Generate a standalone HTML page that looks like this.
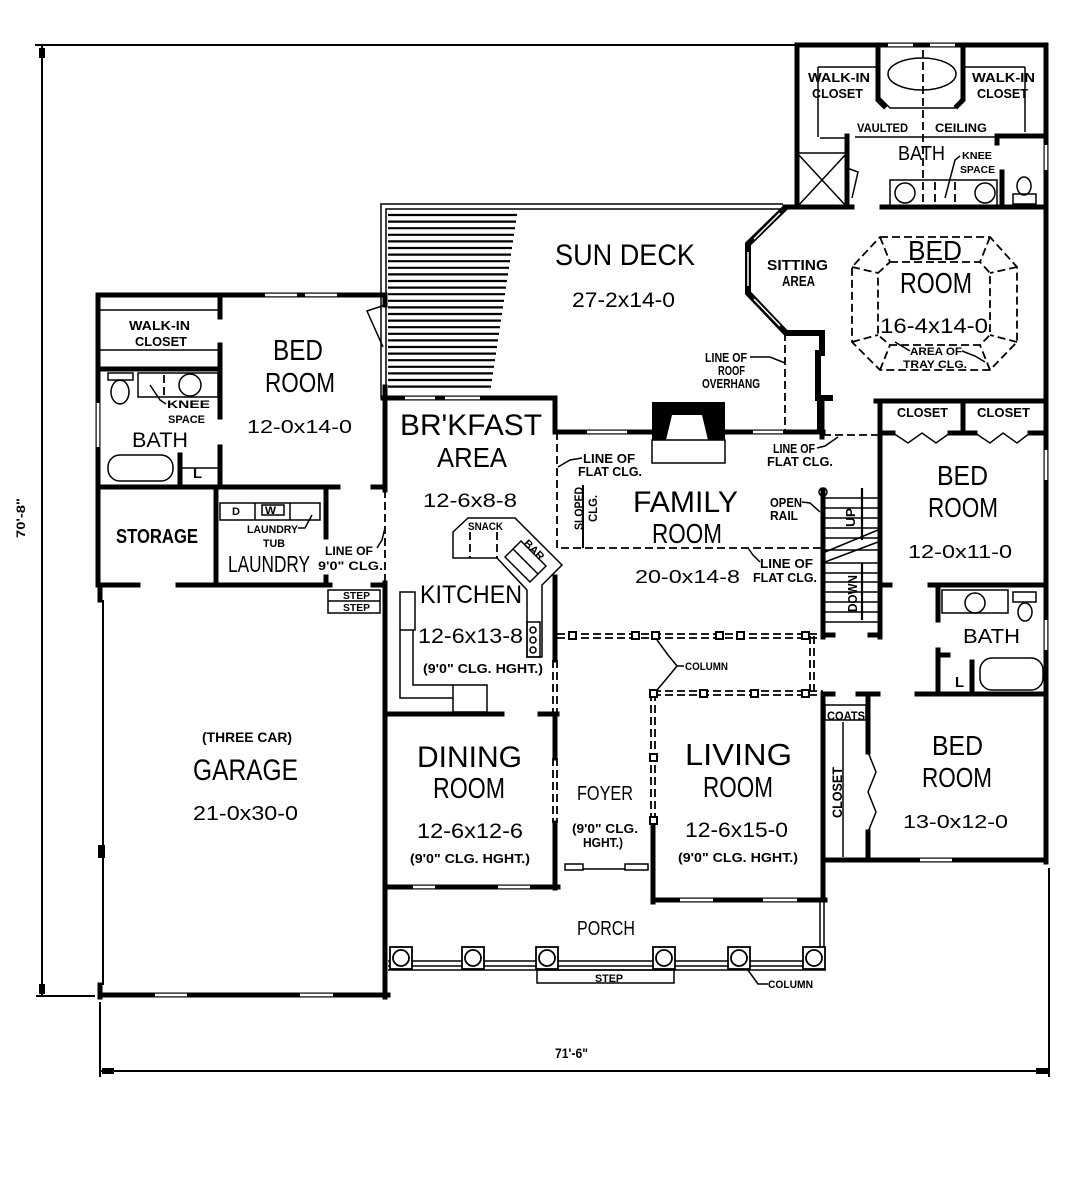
<!DOCTYPE html>
<html><head><meta charset="utf-8"><title>Floor Plan</title>
<style>
html,body{margin:0;padding:0;background:#fff;width:1089px;height:1200px;overflow:hidden}
svg{display:block}
text{font-family:"Liberation Sans",Arial,sans-serif;fill:#000}
.b{font-weight:bold}
</style></head><body>
<svg width="1089" height="1200" viewBox="0 0 1089 1200" xmlns="http://www.w3.org/2000/svg">
<rect width="1089" height="1200" fill="#fff"/>

<!-- dimension lines -->
<g stroke="#000" stroke-width="2" fill="none">
<path d="M35,45H797 M42,45V995 M36,996H95 M100,1002V1077 M100,1071H1049 M1049,868V1077"/>
</g>
<g fill="#000">
<path d="M39,48h6v10h-6z M39,984h6v10h-6z M102,1068h12v6h-12z M1036,1068h12v6h-12z"/>
</g>

<!-- sun deck -->
<g stroke="#000" stroke-width="1.5" fill="none">
<path d="M381,398V204H783 M386,398V209H783"/>
</g>
<g stroke="#000" stroke-width="2.2">
<path d="M388,215H517 M388,221.6H516 M388,228.2H515 M388,234.8H514 M388,241.4H513 M388,248H512 M388,254.6H511 M388,261.2H510 M388,267.8H509 M388,274.4H508 M388,281H507 M388,287.6H506 M388,294.2H505 M388,300.8H504 M388,307.4H503 M388,314H502 M388,320.6H501 M388,327.2H500 M388,333.8H499 M388,340.4H498 M388,347H497 M388,353.6H496 M388,360.2H495 M388,366.8H494 M388,373.4H493 M388,380H492 M388,386.6H491"/>
</g>

<!-- thick walls -->
<g stroke="#000" stroke-width="5" stroke-linecap="square" fill="none">
<path d="M797,45H1046 M797,45V207 M1046,45V862 M878,45V100L884,106 M963,45V100L957,106 M847,136V207 M998,136H1046 M997,136V143 M785,207H852 M882,207H1046 M1002,172V207
M383,398H555 M555,398V432 M555,432H823 M822,400V437
M98,295H385 M98,295V585 M220,295V317 M220,345V417 M220,447V487 M98,369H220 M98,487H338 M373,487H385 M180,455V487 M385,295V305 M385,387V490
M216,487V585 M326,488V537 M326,577V585 M98,585H138 M178,585H330 M373,585H385
M100,585V600 M100,985V997 M100,995H388 M385,583V997
M555,577V660 M385,714H502 M540,714H557 M555,714V758 M555,823V888 M385,887H558
M653,825V902 M653,900H825 M823,694V900
M823,490V637 M880,402V637 M880,585H890 M823,635H833 M870,635H880 M823,694H833 M858,694H878 M868,694V752 M868,832V860 M823,860H1046
M876,401H1046 M880,433H893 M950,433H975 M1030,433H1046 M963,402V433
M930,585H1046 M938,585V620 M938,650V694 M917,694H1046 M972,662V694 M938,655H948"/>
</g>
<g stroke="#000" stroke-width="6" stroke-linejoin="miter" fill="none">
<path d="M786,207L748,244V293L786,333H822V353H818V398H833M820,398V434"/>
</g>
<g stroke="#fff" stroke-width="1.5" fill="none">
<path d="M780,213L754,239 M748,252V286 M754,299L780,326"/>
</g>
<!-- garage left thin wall -->
<g stroke="#000" stroke-width="2" fill="none"><path d="M103,600V985"/></g>
<rect x="98" y="845" width="7" height="13" fill="#000"/>

<!-- windows -->
<g fill="#fff">
<rect x="265" y="293.7" width="32" height="2.6"/><rect x="305" y="293.7" width="32" height="2.6"/>
<rect x="888" y="43.7" width="25" height="2.6"/><rect x="930" y="43.7" width="25" height="2.6"/>
<rect x="405" y="396.7" width="30" height="2.6"/><rect x="445" y="396.7" width="35" height="2.6"/>
<rect x="587" y="430.7" width="40" height="2.6"/><rect x="753" y="430.7" width="30" height="2.6"/>
<rect x="413" y="885.7" width="22" height="2.6"/><rect x="498" y="885.7" width="32" height="2.6"/>
<rect x="680" y="898.7" width="33" height="2.6"/><rect x="763" y="898.7" width="34" height="2.6"/>
<rect x="155" y="993.7" width="32" height="2.6"/><rect x="300" y="993.7" width="33" height="2.6"/>
<rect x="920" y="858.7" width="32" height="2.6"/>
<rect x="96.7" y="403" width="2.6" height="44"/>
<rect x="1044.7" y="145" width="2.6" height="25"/>
<rect x="1044.7" y="450" width="2.6" height="30"/>
<rect x="1044.7" y="620" width="2.6" height="30"/>
</g>

<!-- thin details -->
<g stroke="#000" stroke-width="1.5" fill="none">
<!-- left wing -->
<path d="M98,310H220 M98,350H220"/>
<rect x="108" y="373" width="25" height="7"/><ellipse cx="120" cy="392" rx="9" ry="12"/>
<rect x="138" y="373" width="80" height="24"/><circle cx="190" cy="385" r="11"/>
<rect x="108" y="455" width="65" height="26" rx="12"/>
<path d="M180,468H218"/>
<rect x="220" y="503" width="100" height="17"/><path d="M255,503V520 M290,503V520"/><rect x="262" y="505" width="22" height="10"/>
<rect x="328" y="590" width="52" height="23"/><path d="M328,601H380"/>
<path d="M385,305L367,311L383,347"/>
<!-- master -->
<ellipse cx="922" cy="74" rx="34" ry="16"/>
<path d="M878,96L890,108H955L963,96"/>
<path d="M818,67V137 M818,67H878 M1025,67V132 M963,67H1025 M820,138H845 M855,137H995"/>
<rect x="797" y="153" width="50" height="54"/><path d="M797,153L847,207 M847,153L797,207"/>
<path d="M847,168L858,172L852,198"/>
<rect x="890" y="180" width="107" height="27"/><circle cx="905" cy="193" r="10"/><circle cx="985" cy="193" r="10"/>
<ellipse cx="1024" cy="186" rx="7" ry="9"/><rect x="1013" y="194" width="23" height="10"/>
<!-- kitchen -->
<rect x="400" y="592" width="15" height="38"/>
<path d="M400,630V698H453 M413,630V685H453"/>
<rect x="453" y="685" width="34" height="27"/>
<path d="M453,532L468,518H515L562,565L542,585V657H527V590L497,558H453Z"/>
<path d="M505,557L521,541L546,566L530,582Z M513,549L538,574"/>
<rect x="527" y="622" width="13" height="35"/>
<circle cx="533" cy="630" r="3"/><circle cx="533" cy="640" r="3"/><circle cx="533" cy="650" r="3"/>
<!-- foyer door -->
<rect x="565" y="864" width="18" height="6"/><rect x="625" y="864" width="23" height="6"/><path d="M583,869H625"/>
<!-- halls / closets -->
<rect x="825" y="705" width="41" height="15"/><path d="M843,722V857"/>
<path d="M868,752L876,772L868,792L876,812L868,832"/>
<path d="M893,433L908,443L922,433L936,443L950,433 M975,433L990,443L1003,433L1017,443L1030,433"/>
<!-- right bath -->
<rect x="942" y="590" width="66" height="23"/><circle cx="975" cy="603" r="10"/>
<ellipse cx="1025" cy="612" rx="7" ry="9"/><rect x="1013" y="592" width="23" height="10"/>
<rect x="980" y="658" width="63" height="32" rx="12"/>
<!-- stair -->
<path d="M825,498H878 M825,508H878 M825,518H878 M825,528H878 M825,538H878 M825,550H878 M825,563H878 M825,573H878 M825,582H878 M825,592H878 M825,602H878 M825,612H878 M825,622H878"/>
<path d="M825,552L878,530 M825,562L878,542"/>
<circle cx="823" cy="492" r="4"/>
<!-- porch -->
<path d="M388,970H826 M388,961H822 M388,966H822 M820,900V947 M824,900V947"/>
<rect x="537" y="970" width="137" height="13"/>
<!-- leaders -->
<path d="M150,385L160,400L166,404 M298,528H305L312,515 M377,548L382,540L385,528 M582,458L570,460L558,467 M817,448L825,446L838,437 M760,562L753,555L748,548 M802,502L810,503L820,512 M750,357L770,357L785,363 M960,156L955,160L945,198 M910,351L895,342 M962,351L975,356L985,362 M684,666H677L668,655L657,640 M677,666L668,677L657,690 M768,984H758L745,966"/>
</g>
<g stroke="#000" stroke-width="2.2"><path d="M862,488V540 M862,563V620"/></g>

<!-- fireplace -->
<rect x="652" y="402" width="73" height="38" fill="#000"/>
<path d="M672,415H702L708,440H666Z" fill="#fff"/>
<rect x="652" y="440" width="73" height="23" fill="#fff" stroke="#000" stroke-width="1.5"/>

<!-- dashed lines -->
<g stroke="#000" stroke-width="1.8" fill="none" stroke-dasharray="8,4">
<path d="M923,50V205"/>
<path d="M557,432V548H823"/>
<path d="M385,490V583"/>
<path d="M785,333V432 M823,435H880"/>
<path d="M557,634H823 M557,638H823 M653,691H823 M653,695H823 M810,636V693 M814,636V693 M651,693V825 M655,693V825 M553,660V714 M557,660V714 M553,758V823 M557,758V823"/>
<path d="M880,237H990L1017,267V342L990,370H880L852,342V267Z"/>
<path d="M890,262H980L990,273V335L980,345H890L878,335V273Z"/>
<path d="M880,237L890,262 M990,237L980,262 M1017,267L990,273 M1017,342L990,335 M990,370L980,345 M880,370L890,345 M852,342L878,335 M852,267L878,273"/>
<path d="M164,375V395 M935,182V205 M955,182V205 M470,532V558 M497,532V558"/>
</g>
<g stroke="#000" stroke-width="2" fill="none"><path d="M583,485V548"/></g>

<!-- column squares -->
<g fill="#fff" stroke="#000" stroke-width="2">
<rect x="569" y="632" width="7" height="7"/><rect x="632" y="632" width="7" height="7"/><rect x="652" y="632" width="7" height="7"/><rect x="716" y="632" width="7" height="7"/><rect x="737" y="632" width="7" height="7"/><rect x="802" y="632" width="7" height="7"/>
<rect x="650" y="690" width="7" height="7"/><rect x="700" y="690" width="7" height="7"/><rect x="751" y="690" width="7" height="7"/><rect x="802" y="690" width="7" height="7"/>
<rect x="650" y="754" width="7" height="7"/><rect x="650" y="817" width="7" height="7"/>
</g>
<g fill="#fff" stroke="#000" stroke-width="1.8">
<rect x="390" y="947" width="22" height="22"/><circle cx="401" cy="958" r="8"/>
<rect x="462" y="947" width="22" height="22"/><circle cx="473" cy="958" r="8"/>
<rect x="536" y="947" width="22" height="22"/><circle cx="547" cy="958" r="8"/>
<rect x="653" y="947" width="22" height="22"/><circle cx="664" cy="958" r="8"/>
<rect x="728" y="947" width="22" height="22"/><circle cx="739" cy="958" r="8"/>
<rect x="803" y="947" width="22" height="22"/><circle cx="814" cy="958" r="8"/>
</g>

<!-- TEXT -->
<g>
<text x="555" y="265" font-size="30" textLength="140" lengthAdjust="spacingAndGlyphs">SUN DECK</text>
<text x="572" y="307" font-size="21" textLength="103" lengthAdjust="spacingAndGlyphs">27-2x14-0</text>
<text class="b" x="767" y="270" font-size="15" textLength="61" lengthAdjust="spacingAndGlyphs">SITTING</text>
<text class="b" x="782" y="286" font-size="15" textLength="33" lengthAdjust="spacingAndGlyphs">AREA</text>
<text class="b" x="705" y="362" font-size="13" textLength="42" lengthAdjust="spacingAndGlyphs">LINE OF</text>
<text class="b" x="718" y="375" font-size="13" textLength="27" lengthAdjust="spacingAndGlyphs">ROOF</text>
<text class="b" x="702" y="388" font-size="13" textLength="58" lengthAdjust="spacingAndGlyphs">OVERHANG</text>

<text x="400" y="435" font-size="30" textLength="142" lengthAdjust="spacingAndGlyphs">BR'KFAST</text>
<text x="437" y="467" font-size="28" textLength="70" lengthAdjust="spacingAndGlyphs">AREA</text>
<text x="423" y="507" font-size="19" textLength="94" lengthAdjust="spacingAndGlyphs">12-6x8-8</text>
<text class="b" x="583" y="463" font-size="13" textLength="52" lengthAdjust="spacingAndGlyphs">LINE OF</text>
<text class="b" x="578" y="476" font-size="13" textLength="64" lengthAdjust="spacingAndGlyphs">FLAT CLG.</text>
<text class="b" transform="translate(583,530) rotate(-90)" font-size="12" textLength="43" lengthAdjust="spacingAndGlyphs">SLOPED</text>
<text class="b" transform="translate(597,522) rotate(-90)" font-size="12" textLength="27" lengthAdjust="spacingAndGlyphs">CLG.</text>
<text x="633" y="512" font-size="30" textLength="105" lengthAdjust="spacingAndGlyphs">FAMILY</text>
<text x="652" y="543" font-size="28" textLength="70" lengthAdjust="spacingAndGlyphs">ROOM</text>
<text x="635" y="583" font-size="18" textLength="105" lengthAdjust="spacingAndGlyphs">20-0x14-8</text>
<text class="b" x="770" y="507" font-size="13" textLength="32" lengthAdjust="spacingAndGlyphs">OPEN</text>
<text class="b" x="770" y="520" font-size="13" textLength="28" lengthAdjust="spacingAndGlyphs">RAIL</text>
<text class="b" x="760" y="568" font-size="13" textLength="53" lengthAdjust="spacingAndGlyphs">LINE OF</text>
<text class="b" x="753" y="582" font-size="13" textLength="64" lengthAdjust="spacingAndGlyphs">FLAT CLG.</text>
<text class="b" x="773" y="453" font-size="13" textLength="42" lengthAdjust="spacingAndGlyphs">LINE OF</text>
<text class="b" x="767" y="466" font-size="13" textLength="66" lengthAdjust="spacingAndGlyphs">FLAT CLG.</text>
<text class="b" x="468" y="530" font-size="11" textLength="35" lengthAdjust="spacingAndGlyphs">SNACK</text>
<text class="b" transform="translate(523,544) rotate(45)" font-size="11" textLength="24" lengthAdjust="spacingAndGlyphs">BAR</text>
<text x="420" y="603" font-size="25" textLength="102" lengthAdjust="spacingAndGlyphs">KITCHEN</text>
<text x="418" y="643" font-size="21" textLength="105" lengthAdjust="spacingAndGlyphs">12-6x13-8</text>
<text class="b" x="423" y="673" font-size="13" textLength="120" lengthAdjust="spacingAndGlyphs">(9'0&quot; CLG. HGHT.)</text>
<text class="b" x="685" y="670" font-size="11" textLength="43" lengthAdjust="spacingAndGlyphs">COLUMN</text>

<text x="417" y="767" font-size="30" textLength="105" lengthAdjust="spacingAndGlyphs">DINING</text>
<text x="433" y="798" font-size="29" textLength="72" lengthAdjust="spacingAndGlyphs">ROOM</text>
<text x="417" y="838" font-size="21" textLength="106" lengthAdjust="spacingAndGlyphs">12-6x12-6</text>
<text class="b" x="410" y="863" font-size="13" textLength="120" lengthAdjust="spacingAndGlyphs">(9'0&quot; CLG. HGHT.)</text>
<text x="577" y="800" font-size="20" textLength="56" lengthAdjust="spacingAndGlyphs">FOYER</text>
<text class="b" x="572" y="833" font-size="13" textLength="66" lengthAdjust="spacingAndGlyphs">(9'0&quot; CLG.</text>
<text class="b" x="583" y="847" font-size="13" textLength="40" lengthAdjust="spacingAndGlyphs">HGHT.)</text>
<text x="685" y="765" font-size="31" textLength="107" lengthAdjust="spacingAndGlyphs">LIVING</text>
<text x="703" y="797" font-size="29" textLength="70" lengthAdjust="spacingAndGlyphs">ROOM</text>
<text x="685" y="837" font-size="21" textLength="103" lengthAdjust="spacingAndGlyphs">12-6x15-0</text>
<text class="b" x="678" y="862" font-size="13" textLength="120" lengthAdjust="spacingAndGlyphs">(9'0&quot; CLG. HGHT.)</text>
<text x="577" y="935" font-size="20" textLength="58" lengthAdjust="spacingAndGlyphs">PORCH</text>
<text class="b" x="595" y="982" font-size="11" textLength="28" lengthAdjust="spacingAndGlyphs">STEP</text>
<text class="b" x="768" y="988" font-size="11" textLength="45" lengthAdjust="spacingAndGlyphs">COLUMN</text>

<text class="b" x="827" y="720" font-size="12" textLength="38" lengthAdjust="spacingAndGlyphs">COATS</text>
<text class="b" transform="translate(842,818) rotate(-90)" font-size="14" textLength="51" lengthAdjust="spacingAndGlyphs">CLOSET</text>
<text class="b" x="897" y="417" font-size="13" textLength="51" lengthAdjust="spacingAndGlyphs">CLOSET</text>
<text class="b" x="977" y="417" font-size="13" textLength="53" lengthAdjust="spacingAndGlyphs">CLOSET</text>
<text x="937" y="485" font-size="28" textLength="51" lengthAdjust="spacingAndGlyphs">BED</text>
<text x="928" y="517" font-size="28" textLength="70" lengthAdjust="spacingAndGlyphs">ROOM</text>
<text x="908" y="558" font-size="18" textLength="104" lengthAdjust="spacingAndGlyphs">12-0x11-0</text>
<text class="b" transform="translate(855,527) rotate(-90)" font-size="13" textLength="19" lengthAdjust="spacingAndGlyphs">UP</text>
<text class="b" transform="translate(857,612) rotate(-90)" font-size="13" textLength="37" lengthAdjust="spacingAndGlyphs">DOWN</text>
<text x="963" y="643" font-size="20" textLength="57" lengthAdjust="spacingAndGlyphs">BATH</text>
<text class="b" x="955" y="687" font-size="15" textLength="9" lengthAdjust="spacingAndGlyphs">L</text>
<text x="932" y="755" font-size="28" textLength="51" lengthAdjust="spacingAndGlyphs">BED</text>
<text x="922" y="787" font-size="28" textLength="70" lengthAdjust="spacingAndGlyphs">ROOM</text>
<text x="903" y="828" font-size="18" textLength="105" lengthAdjust="spacingAndGlyphs">13-0x12-0</text>

<text class="b" x="808" y="82" font-size="13" textLength="62" lengthAdjust="spacingAndGlyphs">WALK-IN</text>
<text class="b" x="812" y="98" font-size="13" textLength="51" lengthAdjust="spacingAndGlyphs">CLOSET</text>
<text class="b" x="972" y="82" font-size="13" textLength="63" lengthAdjust="spacingAndGlyphs">WALK-IN</text>
<text class="b" x="977" y="98" font-size="13" textLength="51" lengthAdjust="spacingAndGlyphs">CLOSET</text>
<text class="b" x="857" y="132" font-size="12" textLength="51" lengthAdjust="spacingAndGlyphs">VAULTED</text>
<text class="b" x="935" y="132" font-size="12" textLength="52" lengthAdjust="spacingAndGlyphs">CEILING</text>
<text x="898" y="160" font-size="20" textLength="47" lengthAdjust="spacingAndGlyphs">BATH</text>
<text class="b" x="962" y="159" font-size="10" textLength="30" lengthAdjust="spacingAndGlyphs">KNEE</text>
<text class="b" x="960" y="173" font-size="10" textLength="35" lengthAdjust="spacingAndGlyphs">SPACE</text>
<text x="908" y="260" font-size="28" textLength="54" lengthAdjust="spacingAndGlyphs">BED</text>
<text x="900" y="293" font-size="29" textLength="72" lengthAdjust="spacingAndGlyphs">ROOM</text>
<text x="880" y="333" font-size="21" textLength="108" lengthAdjust="spacingAndGlyphs">16-4x14-0</text>
<text class="b" x="910" y="355" font-size="11" textLength="52" lengthAdjust="spacingAndGlyphs">AREA OF</text>
<text class="b" x="903" y="368" font-size="11" textLength="64" lengthAdjust="spacingAndGlyphs">TRAY CLG.</text>

<text x="273" y="360" font-size="29" textLength="50" lengthAdjust="spacingAndGlyphs">BED</text>
<text x="265" y="392" font-size="28" textLength="70" lengthAdjust="spacingAndGlyphs">ROOM</text>
<text x="247" y="433" font-size="18" textLength="105" lengthAdjust="spacingAndGlyphs">12-0x14-0</text>
<text class="b" x="129" y="330" font-size="13" textLength="61" lengthAdjust="spacingAndGlyphs">WALK-IN</text>
<text class="b" x="135" y="346" font-size="13" textLength="52" lengthAdjust="spacingAndGlyphs">CLOSET</text>
<text class="b" x="167" y="408" font-size="11" textLength="43" lengthAdjust="spacingAndGlyphs">KNEE</text>
<text class="b" x="168" y="423" font-size="11" textLength="37" lengthAdjust="spacingAndGlyphs">SPACE</text>
<text x="132" y="447" font-size="21" textLength="56" lengthAdjust="spacingAndGlyphs">BATH</text>
<text class="b" x="193" y="478" font-size="14" textLength="9" lengthAdjust="spacingAndGlyphs">L</text>
<text class="b" x="116" y="543" font-size="20" textLength="82" lengthAdjust="spacingAndGlyphs">STORAGE</text>
<text class="b" x="232" y="515" font-size="11" textLength="8" lengthAdjust="spacingAndGlyphs">D</text>
<text class="b" x="265" y="514" font-size="11" textLength="11" lengthAdjust="spacingAndGlyphs">W</text>
<text class="b" x="247" y="533" font-size="11" textLength="51" lengthAdjust="spacingAndGlyphs">LAUNDRY</text>
<text class="b" x="263" y="547" font-size="11" textLength="22" lengthAdjust="spacingAndGlyphs">TUB</text>
<text x="228" y="572" font-size="23" textLength="82" lengthAdjust="spacingAndGlyphs">LAUNDRY</text>
<text class="b" x="325" y="555" font-size="12" textLength="48" lengthAdjust="spacingAndGlyphs">LINE OF</text>
<text class="b" x="318" y="570" font-size="12" textLength="65" lengthAdjust="spacingAndGlyphs">9'0&quot; CLG.</text>
<text class="b" x="343" y="599" font-size="10" textLength="27" lengthAdjust="spacingAndGlyphs">STEP</text>
<text class="b" x="343" y="611" font-size="10" textLength="27" lengthAdjust="spacingAndGlyphs">STEP</text>
<text class="b" x="202" y="742" font-size="14" textLength="90" lengthAdjust="spacingAndGlyphs">(THREE CAR)</text>
<text x="193" y="780" font-size="30" textLength="105" lengthAdjust="spacingAndGlyphs">GARAGE</text>
<text x="193" y="820" font-size="20" textLength="105" lengthAdjust="spacingAndGlyphs">21-0x30-0</text>

<text class="b" transform="translate(25,538) rotate(-90)" font-size="12" textLength="40" lengthAdjust="spacingAndGlyphs">70'-8&quot;</text>
<text class="b" x="555" y="1058" font-size="14" textLength="33" lengthAdjust="spacingAndGlyphs">71'-6&quot;</text>
</g>
</svg>
</body></html>
